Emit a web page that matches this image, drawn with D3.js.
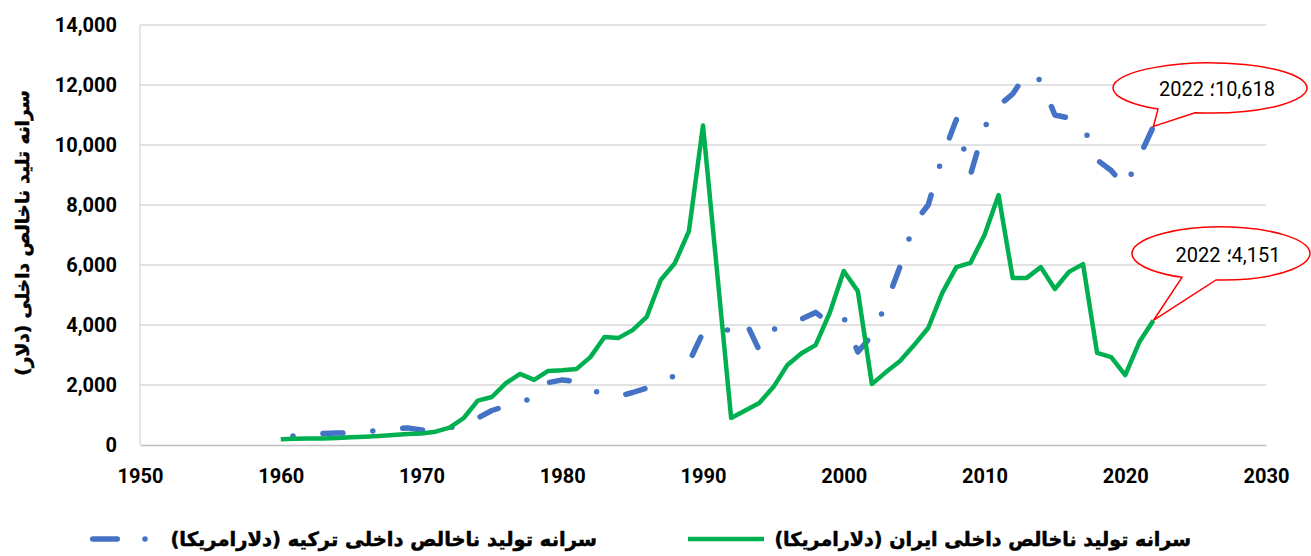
<!DOCTYPE html>
<html>
<head>
<meta charset="utf-8">
<script src="https://cdn.jsdelivr.net/npm/d3@7"></script>
<style>
  body { margin: 0; background: #fff; }
  svg { display: block; }
</style>
</head>
<body>
<script>
// series names (legend) and axis title
const turkeyName = 'سرانه تولید ناخالص داخلی ترکیه (دلارامریکا)';
const iranName = 'سرانه تولید ناخالص داخلی ایران (دلارامریکا)';
const yTitle = 'سرانه تلید ناخالص داخلی (دلار)';

const xTicks = [1950, 1960, 1970, 1980, 1990, 2000, 2010, 2020, 2030];
const yTicks = [0, 2000, 4000, 6000, 8000, 10000, 12000, 14000];

// Turkey, 1960-2022
const turkeyYears = d3.range(1960, 2023);
const turkeyValues = [
  290, 300, 330, 380, 400, 410, 450, 480, 540, 570,
  500, 460, 570, 700, 900, 1150, 1300, 1450, 1550, 2080,
  2170, 2120, 1840, 1700, 1620, 1750, 1900, 2140, 2300, 2750,
  3750, 3740, 3870, 4150, 3150, 3850, 4050, 4200, 4420, 4050,
  4250, 3100, 3650, 4700, 5950, 7400, 8000, 9600, 10850, 9000,
  10600, 11300, 11700, 12400, 12150, 11000, 10900, 10650, 9500, 9150,
  8600, 9600, 10618
];

// Iran (no points for 1991, 1993)
const iranYears = [
  1960, 1961, 1962, 1963, 1964, 1965, 1966, 1967, 1968, 1969,
  1970, 1971, 1972, 1973, 1974, 1975, 1976, 1977, 1978, 1979,
  1980, 1981, 1982, 1983, 1984, 1985, 1986, 1987, 1988, 1989,
  1990, 1992, 1994, 1995, 1996, 1997, 1998, 1999,
  2000, 2001, 2002, 2003, 2004, 2005, 2006, 2007, 2008, 2009,
  2010, 2011, 2012, 2013, 2014, 2015, 2016, 2017, 2018, 2019,
  2020, 2021, 2022
];
const iranValues = [
  192, 207, 213, 220, 234, 259, 277, 302, 337, 366,
  386, 444, 580, 900, 1480, 1600, 2060, 2370, 2170, 2470,
  2490, 2530, 2930, 3600, 3570, 3830, 4270, 5500, 6060, 7130,
  10650, 900, 1400, 1930, 2670, 3060, 3330, 4400,
  5800, 5130, 2030, 2430, 2800, 3330, 3900, 5070, 5930, 6070,
  7000, 8330, 5570, 5570, 5930, 5200, 5770, 6030, 3070, 2930,
  2330, 3430, 4151
];

const W = 1311, H = 556;
const svg = d3.select('body').append('svg')
  .attr('width', W)
  .attr('height', H);

const x = d3.scaleLinear().domain([1950, 2030]).range([140, 1266]);
const y = d3.scaleLinear().domain([0, 14000]).range([445, 25]);

const numFont = 'Roboto, "Liberation Sans", sans-serif';
const arFont = '"DejaVu Sans", sans-serif';

// gridlines
svg.append('g')
  .selectAll('line')
  .data(yTicks.slice(1))
  .enter()
  .append('line')
  .attr('x1', x(1950))
  .attr('x2', x(2030))
  .attr('y1', d => y(d))
  .attr('y2', d => y(d))
  .attr('stroke', '#d9d9d9')
  .attr('stroke-width', 1.3);

// left axis line
svg.append('line')
  .attr('x1', x(1950)).attr('x2', x(1950))
  .attr('y1', y(14000)).attr('y2', y(0))
  .attr('stroke', '#d9d9d9')
  .attr('stroke-width', 1.3);

// y axis labels
const yAxis = svg.append('g')
  .attr('transform', `translate(${x(1950)},0)`)
  .call(d3.axisLeft(y).tickValues(yTicks).tickFormat(d3.format(',')).tickSize(0).tickPadding(23));
yAxis.select('.domain').remove();
yAxis.selectAll('text')
  .attr('font-family', numFont)
  .attr('font-weight', 'bold')
  .attr('font-size', 20)
  .attr('fill', '#000');

// x axis
const xAxis = svg.append('g')
  .attr('transform', `translate(0,${y(0)})`)
  .call(d3.axisBottom(x).tickValues(xTicks).tickFormat(d3.format('d')).tickSize(0).tickPadding(24));
xAxis.select('.domain')
  .attr('stroke', '#bfbfbf')
  .attr('stroke-width', 1.6);
xAxis.selectAll('text')
  .attr('font-family', numFont)
  .attr('font-weight', 'bold')
  .attr('font-size', 20)
  .attr('fill', '#000');

// y title
svg.append('text')
  .attr('transform', 'translate(29,233) rotate(-90)')
  .attr('text-anchor', 'middle')
  .attr('direction', 'rtl')
  .attr('font-family', arFont)
  .attr('font-weight', 'bold')
  .attr('font-size', 18.5)
  .attr('stroke', '#000')
  .attr('stroke-width', 0.5)
  .text(yTitle);

// lines
const line = d3.line()
  .x(d => x(d[0]))
  .y(d => y(d[1]));

const iranPts = iranYears.map((yr, i) => [yr, iranValues[i]]);
const turkeyPts = turkeyYears.map((yr, i) => [yr, turkeyValues[i]]);

svg.append('path')
  .datum(turkeyPts)
  .attr('d', line)
  .attr('fill', 'none')
  .attr('stroke', '#4472c4')
  .attr('stroke-width', 5.5)
  .attr('stroke-linecap', 'round')
  .attr('stroke-linejoin', 'round')
  .attr('stroke-dasharray', '20,30,0,30')
  .attr('stroke-dashoffset', 37.75);

svg.append('path')
  .datum(iranPts)
  .attr('d', line)
  .attr('fill', 'none')
  .attr('stroke', '#00b050')
  .attr('stroke-width', 4.5)
  .attr('stroke-linejoin', 'round');

// callouts
function callout(cx, cy, rx, ry, a1, a2, tip, label) {
  const p = a => [cx + rx * Math.cos(a * Math.PI / 180), cy + ry * Math.sin(a * Math.PI / 180)];
  const p1 = p(a1), p2 = p(a2);
  const d = `M${p1[0]},${p1[1]} L${tip[0]},${tip[1]} L${p2[0]},${p2[1]} A${rx},${ry} 0 1 0 ${p1[0]},${p1[1]} Z`;
  svg.append('path')
    .attr('d', d)
    .attr('fill', '#fff')
    .attr('stroke', '#ff0000')
    .attr('stroke-width', 1.5)
    .attr('stroke-linejoin', 'miter');
  svg.append('text')
    .attr('x', cx + 7)
    .attr('y', cy + 1)
    .attr('text-anchor', 'middle')
    .attr('dominant-baseline', 'central')
    .attr('font-family', numFont)
    .attr('font-size', 20)
    .attr('fill', '#000')
    .text(label);
}

const lastT = turkeyPts[turkeyPts.length - 1];
const lastI = iranPts[iranPts.length - 1];
callout(1210, 88, 97, 25, 122.4, 98.9, [x(lastT[0]), y(lastT[1])],
  lastT[0] + ' \u061B\u200E' + d3.format(',')(lastT[1]));
callout(1221, 253.5, 89, 26.5, 116, 93.2, [x(lastI[0]), y(lastI[1])],
  lastI[0] + ' \u061B\u200E' + d3.format(',')(lastI[1]));

// legend
const legY = 539;
svg.append('line')
  .attr('x1', 92.75).attr('x2', 160)
  .attr('y1', legY).attr('y2', legY)
  .attr('stroke', '#4472c4')
  .attr('stroke-width', 5.5)
  .attr('stroke-linecap', 'round')
  .attr('stroke-dasharray', '24.5,27.75,0,300');
svg.append('text')
  .attr('x', 597)
  .attr('y', legY)
  .attr('direction', 'rtl')
  .attr('text-anchor', 'start')
  .attr('dominant-baseline', 'central')
  .attr('font-family', arFont)
  .attr('font-weight', 'bold')
  .attr('font-size', 19.5)
  .attr('stroke', '#000')
  .attr('stroke-width', 0.5)
  .text(turkeyName);

svg.append('line')
  .attr('x1', 688).attr('x2', 764)
  .attr('y1', legY).attr('y2', legY)
  .attr('stroke', '#00b050')
  .attr('stroke-width', 4.5);
svg.append('text')
  .attr('x', 1191)
  .attr('y', legY)
  .attr('direction', 'rtl')
  .attr('text-anchor', 'start')
  .attr('dominant-baseline', 'central')
  .attr('font-family', arFont)
  .attr('font-weight', 'bold')
  .attr('font-size', 19.1)
  .attr('stroke', '#000')
  .attr('stroke-width', 0.5)
  .text(iranName);
</script>
</body>
</html>
